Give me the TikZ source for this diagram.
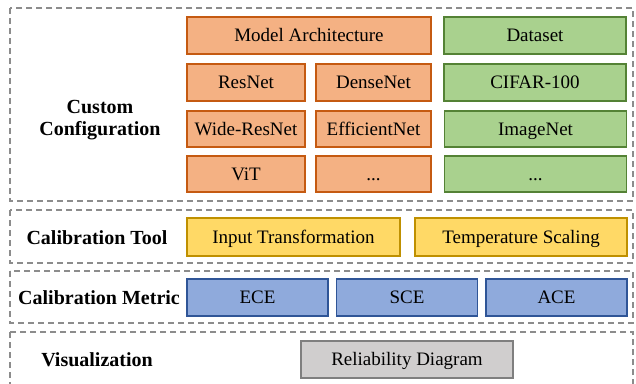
\documentclass[tikz,border=0pt]{standalone}
\usepackage{fontspec}
\setmainfont{Liberation Serif}
\definecolor{orfill}{HTML}{F4B183}
\definecolor{ordraw}{HTML}{C55A11}
\definecolor{grfill}{HTML}{A9D18E}
\definecolor{grdraw}{HTML}{548235}
\definecolor{yefill}{HTML}{FFD966}
\definecolor{yedraw}{HTML}{BF9000}
\definecolor{blfill}{HTML}{8FAADC}
\definecolor{bldraw}{HTML}{2F5597}
\definecolor{gyfill}{HTML}{D0CECE}
\definecolor{gydraw}{HTML}{7F7F7F}
\definecolor{dashgray}{HTML}{8C8C8C}
\begin{document}
\begin{tikzpicture}[x=1pt,y=-1pt,
  every node/.style={font=\fontsize{19}{22}\selectfont, inner sep=0pt, outer sep=0pt},
  cell/.style={draw, line width=1.6pt, rectangle, text height=13pt, text depth=0.5pt},
  orbox/.style={cell, fill=orfill, draw=ordraw},
  grbox/.style={cell, fill=grfill, draw=grdraw},
  yebox/.style={cell, fill=yefill, draw=yedraw},
  blbox/.style={cell, fill=blfill, draw=bldraw},
  gybox/.style={cell, fill=gyfill, draw=gydraw},
  panel/.style={draw=dashgray, line width=1.3pt, dash pattern=on 6pt off 4pt},
  lab/.style={font=\fontsize{20}{22}\selectfont\bfseries, align=center}]
\useasboundingbox (0,0) rectangle (636,383);
% panels
\draw[panel] (10,8) rectangle (633,201);
\draw[panel] (10,210) rectangle (633,263);
\draw[panel] (10,271) rectangle (633,323);
\draw[panel] (10,332) rectangle (633,392);
% labels
\node[lab] (lcc) at (100,120) {Custom\\[0pt]Configuration};
\node[lab] (lct) at (97,238) {Calibration Tool};
\node[lab] (lcm) at (99,298) {Calibration Metric};
\node[lab] (lvi) at (97,360) {Visualization};
% custom configuration
\node[orbox, minimum width=244pt, minimum height=37pt] (ma) at (309,35.5) {Model Architecture};
\node[grbox, minimum width=182pt, minimum height=37pt] (ds) at (535,35.5) {Dataset};
\node[orbox, minimum width=118pt, minimum height=37pt] (rn) at (246,82.5) {ResNet};
\node[orbox, minimum width=115pt, minimum height=37pt] (dn) at (373.5,82.5) {DenseNet};
\node[grbox, minimum width=182pt, minimum height=37pt] (cf) at (535,82.5) {CIFAR-100};
\node[orbox, minimum width=118pt, minimum height=36pt] (wr) at (246,129) {Wide-ResNet};
\node[orbox, minimum width=115pt, minimum height=36pt] (en) at (373.5,129) {EfficientNet};
\node[grbox, minimum width=182pt, minimum height=36pt] (in) at (535.5,129) {ImageNet};
\node[orbox, minimum width=118pt, minimum height=36pt] (vt) at (246,174) {ViT};
\node[orbox, minimum width=115pt, minimum height=36pt] (od) at (373.5,174) {...};
\node[grbox, minimum width=182pt, minimum height=36pt] (gd) at (535.5,174) {...};
% calibration tool
\node[yebox, minimum width=213pt, minimum height=38pt] (it) at (293.5,237) {Input Transformation};
\node[yebox, minimum width=212pt, minimum height=38pt] (ts) at (521,237) {Temperature Scaling};
% calibration metric
\node[blbox, minimum width=141pt, minimum height=37pt] (ece) at (257.5,297.5) {ECE};
\node[blbox, minimum width=141pt, minimum height=37pt] (sce) at (407,297.5) {SCE};
\node[blbox, minimum width=141pt, minimum height=37pt] (ace) at (556.5,297.5) {ACE};
% visualization
\node[gybox, minimum width=212pt, minimum height=37pt] (rd) at (407,359.5) {Reliability Diagram};
\end{tikzpicture}
\end{document}
